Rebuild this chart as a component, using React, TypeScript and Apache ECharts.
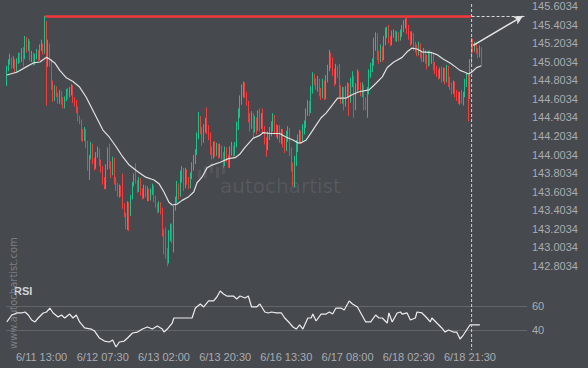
import React, { useEffect, useRef } from "react";
import * as echarts from "echarts";

// ---- data ----
const slotCount = 315; // 30-minute slots on the time axis (incl. empty future slots)
const slots = Array.from({ length: slotCount }, (_, i) => String(i));

const tickSlots = [21, 58, 95, 132, 169, 206, 243, 280];
const tickLabels = ["6/11 13:00", "6/12 07:30", "6/13 02:00", "6/13 20:30", "6/16 13:30", "6/17 08:00", "6/18 02:30", "6/18 21:30"];

const firstOpen = 144.83;
const closes = [
  144.94, 145.0, 145.04, 144.96, 145.02, 144.91, 145.0, 145.07, 145.02, 145.13,
  145.05, 145.24, 145.15, 145.22, 145.04, 145.09, 145.0, 145.06, 145.11, 145.04,
  145.15, 145.19, 145.11, 145.37, 145.08, 145.18, 145.02, 144.75, 144.62, 144.72,
  144.65, 144.59, 144.67, 144.59, 144.53, 144.61, 144.68, 144.65, 144.7, 144.72,
  144.59, 144.56, 144.48, 144.4, 144.36, 144.21, 144.18, 144.26, 144.11, 143.86,
  143.98, 144.1, 143.95, 143.88, 144.0, 144.05, 143.92, 143.86, 143.73, 143.68,
  143.86, 144.05, 143.89, 143.81, 143.95, 143.73, 143.66, 143.59, 143.65, 143.58,
  143.48, 143.36, 143.25, 143.46, 143.36, 143.54, 143.68, 143.75, 143.71, 143.62,
  143.73, 143.6, 143.56, 143.65, 143.57, 143.62, 143.54, 143.6, 143.65, 143.54,
  143.46, 143.41, 143.47, 143.41, 143.17, 143.0, 142.92, 142.85, 143.14, 143.23,
  143.1, 143.43, 143.51, 143.68, 143.57, 143.78, 143.84, 143.68, 143.82, 143.73,
  143.67, 143.78, 143.89, 143.97, 144.03, 144.2, 144.4, 144.27, 144.16, 144.29,
  144.35, 144.27, 144.21, 144.05, 144.0, 144.11, 144.03, 144.1, 144.02, 144.07,
  144.0, 143.91, 144.05, 143.97, 143.89, 144.03, 144.07, 144.02, 144.11, 144.32,
  144.46, 144.59, 144.68, 144.74, 144.65, 144.57, 144.4, 144.32, 144.43, 144.27,
  144.38, 144.29, 144.43, 144.32, 144.4, 144.29, 144.16, 144.07, 144.21, 144.27,
  144.32, 144.4, 144.29, 144.24, 144.29, 144.18, 144.25, 144.14, 144.07, 144.21,
  144.27, 144.05, 143.89, 143.73, 143.95, 144.11, 144.18, 144.23, 144.18, 144.29,
  144.33, 144.46, 144.55, 144.48, 144.7, 144.85, 144.79, 144.74, 144.81, 144.68,
  144.63, 144.79, 144.63, 144.81, 144.94, 145.09, 144.98, 144.89, 144.81, 144.94,
  144.87, 144.7, 144.61, 144.7, 144.57, 144.7, 144.74, 144.59, 144.79, 144.85,
  144.51, 144.72, 144.87, 144.74, 144.68, 144.74, 144.59, 144.54, 144.7, 144.87,
  144.96, 145.0, 145.22, 145.28, 145.08, 145.02, 145.15, 145.04, 145.22, 145.32,
  145.35, 145.24, 145.21, 145.3, 145.31, 145.26, 145.3, 145.26, 145.32, 145.37,
  145.41, 145.43, 145.35, 145.28, 145.22, 145.29, 145.17, 145.15, 145.11, 145.18,
  145.09, 145.04, 145.11, 145.02, 144.98, 145.09, 145.02, 145.08, 144.96, 144.91,
  144.88, 144.85, 144.91, 144.83, 144.9, 144.81, 144.94, 144.81, 144.74, 144.7,
  144.76, 144.67, 144.63, 144.61, 144.65, 144.59, 144.65, 144.79, 144.83, 144.68,
  145.0, 145.24, 145.13, 145.19, 145.13, 145.08, 145.15, 145.0,
];
const highs = [
  144.96, 145.03, 145.09, 145.05, 145.06, 145.03, 145.04, 145.1, 145.1, 145.15,
  145.16, 145.28, 145.27, 145.25, 145.23, 145.12, 145.1, 145.09, 145.14, 145.13,
  145.19, 145.24, 145.2, 145.495, 145.44, 145.24, 145.2, 145.03, 144.8, 144.75,
  144.74, 144.67, 144.7, 144.69, 144.62, 144.63, 144.71, 144.72, 144.73, 144.76,
  144.75, 144.62, 144.59, 144.52, 144.42, 144.38, 144.28, 144.3, 144.28, 144.15,
  144.0, 144.14, 144.12, 143.97, 144.03, 144.09, 144.07, 143.95, 143.88, 143.76,
  143.9, 144.08, 144.12, 143.93, 143.98, 143.97, 143.76, 143.7, 143.68, 143.67,
  143.8, 143.48, 143.38, 143.5, 143.49, 143.57, 143.71, 143.8, 143.91, 143.73,
  143.76, 143.75, 143.64, 143.68, 143.67, 143.66, 143.63, 143.64, 143.69, 143.67,
  143.56, 143.48, 143.5, 143.49, 143.43, 143.2, 143.22, 143.0, 143.19, 143.26,
  143.26, 143.45, 143.55, 143.72, 143.69, 143.83, 143.88, 143.86, 143.86, 143.84,
  143.76, 143.81, 143.92, 144.0, 144.06, 144.24, 144.46, 144.42, 144.3, 144.33,
  144.4, 144.51, 144.32, 144.24, 144.09, 144.14, 144.15, 144.13, 144.12, 144.12,
  144.1, 144.03, 144.09, 144.08, 144.0, 144.09, 144.14, 144.1, 144.14, 144.36,
  144.5, 144.64, 144.76, 144.79, 144.78, 144.68, 144.58, 144.45, 144.47, 144.45,
  144.42, 144.4, 144.48, 144.5, 144.45, 144.5, 144.31, 144.19, 144.25, 144.3,
  144.36, 144.45, 144.43, 144.33, 144.32, 144.32, 144.28, 144.28, 144.18, 144.26,
  144.31, 144.29, 144.08, 143.92, 143.99, 144.16, 144.22, 144.27, 144.26, 144.33,
  144.37, 144.5, 144.59, 144.58, 144.74, 144.89, 144.87, 144.82, 144.85, 144.82,
  144.72, 144.82, 144.8, 144.86, 144.97, 145.13, 145.1, 145.05, 144.93, 144.98,
  144.96, 144.98, 144.75, 144.73, 144.73, 144.74, 144.78, 144.77, 144.83, 144.9,
  144.85, 144.77, 144.92, 144.9, 144.78, 144.78, 144.75, 144.62, 144.73, 144.92,
  144.99, 145.04, 145.26, 145.32, 145.31, 145.12, 145.19, 145.17, 145.28, 145.37,
  145.38, 145.4, 145.28, 145.34, 145.35, 145.34, 145.33, 145.32, 145.35, 145.4,
  145.45, 145.47, 145.495, 145.4, 145.33, 145.33, 145.31, 145.22, 145.19, 145.22,
  145.2, 145.12, 145.15, 145.13, 145.08, 145.12, 145.13, 145.11, 145.1, 145.0,
  144.96, 144.92, 144.94, 144.95, 144.94, 144.94, 144.97, 144.96, 144.84, 144.78,
  144.8, 144.79, 144.7, 144.68, 144.68, 144.7, 144.68, 144.82, 144.88, 144.86,
  145.03, 145.26, 145.25, 145.22, 145.2, 145.15, 145.18, 145.16,
];
const lows = [
  144.74, 144.9, 144.97, 144.93, 144.93, 144.88, 144.89, 144.98, 144.99, 145.0,
  144.95, 145.03, 145.1, 145.12, 145.01, 145.0, 144.96, 144.97, 145.03, 145.01,
  145.02, 145.12, 145.08, 145.09, 144.53, 144.95, 144.95, 144.7, 144.57, 144.58,
  144.62, 144.55, 144.55, 144.54, 144.5, 144.5, 144.58, 144.6, 144.62, 144.64,
  144.56, 144.52, 144.45, 144.36, 144.33, 144.15, 144.14, 144.15, 144.07, 143.83,
  143.73, 143.95, 143.9, 143.83, 143.85, 143.97, 143.88, 143.81, 143.68, 143.63,
  143.63, 143.84, 143.85, 143.75, 143.78, 143.68, 143.61, 143.55, 143.54, 143.55,
  143.42, 143.33, 143.2, 143.19, 143.18, 143.34, 143.52, 143.66, 143.69, 143.59,
  143.6, 143.56, 143.52, 143.53, 143.54, 143.5, 143.5, 143.51, 143.57, 143.49,
  143.43, 143.37, 143.38, 143.36, 143.12, 142.93, 142.88, 142.8, 142.83, 143.07,
  143.05, 142.95, 143.4, 143.48, 143.52, 143.55, 143.7, 143.61, 143.64, 143.68,
  143.63, 143.64, 143.74, 143.83, 143.9, 144.0, 144.17, 144.22, 144.1, 144.13,
  144.24, 144.22, 144.16, 144.0, 143.95, 143.96, 143.98, 143.99, 143.96, 143.97,
  143.95, 143.86, 143.88, 143.92, 143.86, 143.86, 143.99, 143.98, 143.99, 144.08,
  144.27, 144.4, 144.54, 144.62, 144.61, 144.53, 144.35, 144.25, 144.28, 144.19,
  144.24, 144.22, 144.26, 144.25, 144.28, 144.24, 144.11, 143.98, 144.05, 144.16,
  144.2, 144.25, 144.22, 144.19, 144.17, 144.13, 144.12, 144.08, 144.02, 144.04,
  144.14, 143.99, 143.82, 143.66, 143.65, 143.88, 144.03, 144.12, 144.12, 144.14,
  144.22, 144.29, 144.42, 144.42, 144.45, 144.66, 144.75, 144.7, 144.68, 144.63,
  144.59, 144.61, 144.59, 144.6, 144.78, 144.9, 144.93, 144.85, 144.74, 144.76,
  144.83, 144.62, 144.55, 144.55, 144.48, 144.52, 144.62, 144.42, 144.56, 144.73,
  144.4, 144.48, 144.68, 144.7, 144.63, 144.62, 144.48, 144.48, 144.4, 144.65,
  144.83, 144.89, 144.96, 145.12, 145.02, 144.98, 145.0, 145.0, 145.02, 145.18,
  145.26, 145.2, 145.17, 145.18, 145.26, 145.22, 145.22, 145.22, 145.23, 145.27,
  145.32, 145.36, 145.3, 145.24, 145.17, 145.19, 145.12, 145.1, 145.06, 145.07,
  145.04, 145.0, 145.0, 144.98, 144.92, 144.95, 144.96, 144.98, 144.91, 144.87,
  144.84, 144.81, 144.82, 144.78, 144.79, 144.76, 144.78, 144.73, 144.7, 144.65,
  144.66, 144.62, 144.58, 144.55, 144.54, 144.55, 144.53, 144.62, 144.73, 144.36,
  144.6, 144.98, 145.1, 145.11, 145.09, 145.04, 145.05, 144.97,
];

// moving average line: [slot, price]
const maPoints = [
  [0, 144.86], [6, 144.89], [12, 144.95], [16, 144.99], [20, 145.0], [24, 145.05], [26, 145.03],
  [29, 144.99], [32, 144.91], [36, 144.83], [40, 144.79], [44, 144.73], [48, 144.62], [52, 144.48],
  [58, 144.27], [62, 144.19], [66, 144.09], [70, 143.98], [74, 143.89], [79, 143.82], [84, 143.76],
  [89, 143.73], [92, 143.69], [95, 143.6], [98, 143.49], [100, 143.46], [103, 143.47], [106, 143.51],
  [110, 143.55], [113, 143.6], [115, 143.7], [118, 143.76], [121, 143.86], [124, 143.89], [129, 143.92],
  [134, 143.96], [138, 143.97], [141, 144.01], [144, 144.08], [149, 144.18], [153, 144.21], [155, 144.24],
  [159, 144.23], [165, 144.23], [169, 144.19], [173, 144.16], [176, 144.13], [178, 144.13], [181, 144.16],
  [184, 144.24], [187, 144.32], [190, 144.4], [193, 144.45], [197, 144.54], [200, 144.61], [205, 144.61],
  [209, 144.65], [213, 144.68], [219, 144.7], [222, 144.75], [227, 144.84], [230, 144.94], [234, 145.0],
  [239, 145.05], [242, 145.11], [245, 145.15], [248, 145.14], [251, 145.11], [257, 145.1], [260, 145.08],
  [264, 145.03], [268, 144.99], [271, 144.95], [274, 144.91], [277, 144.89], [279, 144.87], [281, 144.89],
  [284, 144.94], [287, 144.96],
];

// RSI line: [slot, value]
const rsiPoints = [
  [0, 46.7], [3, 52.5], [6, 54.2], [9, 54.2], [11, 55.0], [13, 52.5], [15, 48.3], [17, 46.7], [19, 50.0],
  [22, 54.2], [24, 55.0], [26, 58.3], [28, 54.2], [31, 50.8], [33, 52.5], [35, 50.0], [38, 53.3], [40, 50.0],
  [42, 52.5], [44, 46.7], [47, 41.7], [51, 40.8], [53, 39.2], [56, 33.3], [59, 30.8], [62, 30.0], [64, 31.7],
  [66, 25.8], [68, 30.0], [71, 30.8], [73, 33.3], [76, 37.5], [79, 38.3], [82, 40.8], [85, 42.5], [88, 40.8],
  [91, 43.3], [94, 40.8], [95, 38.3], [97, 40.8], [100, 45.8], [101, 50.0], [112, 50.0], [114, 58.3],
  [117, 61.7], [119, 59.2], [122, 64.2], [125, 64.2], [127, 67.5], [129, 72.5], [131, 70.0], [133, 68.3],
  [137, 68.3], [139, 65.8], [141, 68.3], [144, 66.7], [146, 68.3], [148, 59.2], [151, 59.2], [153, 61.7],
  [156, 55.0], [158, 54.2], [160, 55.0], [163, 54.2], [166, 54.2], [168, 50.0], [171, 45.8], [173, 42.5],
  [175, 40.8], [177, 44.2], [179, 40.8], [182, 50.0], [184, 50.0], [185, 53.3], [187, 47.5], [190, 53.3],
  [193, 53.3], [195, 55.0], [197, 53.3], [199, 58.3], [202, 58.3], [204, 56.7], [207, 64.2], [209, 61.7],
  [212, 59.2], [214, 54.2], [217, 46.7], [220, 46.7], [223, 52.5], [225, 50.0], [227, 50.0], [230, 45.8],
  [231, 54.2], [233, 46.7], [236, 54.2], [238, 55.0], [239, 53.3], [242, 54.2], [244, 48.3], [247, 50.0],
  [248, 55.0], [251, 54.2], [254, 50.0], [256, 46.7], [257, 50.0], [260, 45.8], [263, 41.7], [265, 38.3],
  [267, 40.0], [270, 38.3], [272, 38.3], [274, 32.5], [276, 35.8], [278, 40.0], [280, 44.2], [286, 44.2],
];

const resistanceLevel = 145.495;
const resistanceStartSlot = 23;
const nowSlot = 281;
const projectionEndSlot = 313;
const arrowStart = [282, 145.18];
const arrowEnd = [312, 145.495];

const BG = "#46494e";
const UP = "#1cc189";
const DOWN = "#f23c3d";
const LABEL = "#a9acb0";

export default function App() {
  const ref = useRef<HTMLDivElement>(null);

  useEffect(() => {
    if (!ref.current) return;
    const chart = echarts.init(ref.current, null, { renderer: "svg" });

    const ohlc = closes.map((c, i) => [i === 0 ? firstOpen : closes[i - 1], c, lows[i], highs[i]]);

    const hiddenAxisBits = {
      axisLine: { show: false },
      axisTick: { show: false },
      splitLine: { show: false },
    };

    chart.setOption({
      animation: false,
      backgroundColor: BG,
      grid: [
        { left: 6, right: 61, top: 6, height: 260 },
        { left: 6, right: 61, top: 282, height: 72 },
      ],
      xAxis: [
        {
          type: "category",
          gridIndex: 0,
          data: slots,
          boundaryGap: true,
          ...hiddenAxisBits,
          axisLabel: { show: false },
        },
        {
          type: "category",
          gridIndex: 1,
          data: slots,
          boundaryGap: true,
          ...hiddenAxisBits,
          axisLabel: {
            show: true,
            interval: (idx: number) => tickSlots.indexOf(idx) >= 0,
            formatter: (_v: string, idx: number) => {
              const k = tickSlots.indexOf(idx);
              return k >= 0 ? tickLabels[k] : "";
            },
            color: LABEL,
            fontSize: 11,
            fontFamily: "Liberation Sans, Arial, sans-serif",
            margin: -3,
          },
        },
      ],
      yAxis: [
        {
          type: "value",
          gridIndex: 0,
          position: "right",
          min: 142.8034,
          max: 145.603,
          interval: 0.2,
          ...hiddenAxisBits,
          axisLabel: {
            color: LABEL,
            fontSize: 11,
            fontFamily: "Liberation Sans, Arial, sans-serif",
            margin: 5,
            formatter: (v: number) => (Math.round((v - 0.0034) * 10) / 10 + 0.0034).toFixed(4),
          },
        },
        {
          type: "value",
          gridIndex: 1,
          position: "right",
          min: 20,
          max: 80,
          interval: 20,
          axisLine: { show: false },
          axisTick: { show: false },
          splitLine: {
            show: true,
            lineStyle: { color: ["rgba(0,0,0,0)", "#62666b", "#62666b", "rgba(0,0,0,0)"], width: 1 },
          },
          axisLabel: {
            color: LABEL,
            fontSize: 11,
            fontFamily: "Liberation Sans, Arial, sans-serif",
            margin: 5,
            formatter: (v: number) => (v === 40 || v === 60 ? String(v) : ""),
          },
        },
      ],
      series: [
        {
          type: "candlestick",
          xAxisIndex: 0,
          yAxisIndex: 0,
          data: ohlc,
          barWidth: 1.2,
          clip: false,
          itemStyle: {
            color: UP,
            color0: DOWN,
            borderColor: UP,
            borderColor0: DOWN,
            borderWidth: 1,
          },
          markLine: {
            silent: true,
            symbol: ["none", "none"],
            label: { show: false },
            data: [
              [
                { coord: [resistanceStartSlot, resistanceLevel], lineStyle: { color: "#f4373b", width: 2.5, type: "solid" } },
                { coord: [nowSlot, resistanceLevel] },
              ],
              [
                { coord: [nowSlot, resistanceLevel], lineStyle: { color: "#d8d8d8", width: 1, type: [3, 2] } },
                { coord: [projectionEndSlot, resistanceLevel] },
              ],
              [
                { coord: arrowStart, symbol: "none", lineStyle: { color: "#e4e4e4", width: 1.5, type: "solid" } },
                { coord: arrowEnd, symbol: "arrow", symbolSize: [7, 9] },
              ],
            ],
          },
        },
        {
          type: "line",
          xAxisIndex: 0,
          yAxisIndex: 0,
          data: maPoints,
          showSymbol: false,
          lineStyle: { color: "#e0e0e0", width: 1.2 },
          z: 3,
        },
        {
          type: "line",
          xAxisIndex: 1,
          yAxisIndex: 1,
          data: rsiPoints,
          showSymbol: false,
          lineStyle: { color: "#ececec", width: 1.2 },
        },
      ],
      graphic: [
        {
          type: "text",
          left: 14,
          top: 285,
          style: { text: "RSI", fill: "#d2d4d6", font: "bold 11px Liberation Sans, Arial, sans-serif" },
        },
        {
          type: "text",
          x: 18,
          y: 349,
          rotation: Math.PI / 2,
          style: {
            text: "www.autochartist.com",
            fill: "#7b7e83",
            font: "10px DejaVu Sans, sans-serif",
            textAlign: "left",
            textVerticalAlign: "bottom",
          },
        },
        {
          type: "group",
          silent: true,
          children: [
            { type: "rect", shape: { x: 198, y: 170, width: 3, height: 8 }, style: { fill: "rgba(255,255,255,0.07)" } },
            { type: "rect", shape: { x: 204, y: 166, width: 3, height: 12 }, style: { fill: "rgba(255,255,255,0.07)" } },
            { type: "rect", shape: { x: 210, y: 163, width: 3, height: 10 }, style: { fill: "rgba(255,255,255,0.07)" } },
            { type: "rect", shape: { x: 216, y: 167, width: 3, height: 11 }, style: { fill: "rgba(255,255,255,0.07)" } },
            { type: "rect", shape: { x: 222, y: 165, width: 3, height: 9 }, style: { fill: "rgba(255,255,255,0.07)" } },
            {
              type: "text",
              x: 220,
              y: 186,
              style: {
                text: "autochartist",
                fill: "rgba(255,255,255,0.09)",
                font: "20px DejaVu Sans, sans-serif",
                textAlign: "left",
                textVerticalAlign: "middle",
              },
            },
          ],
        },
      ],
    });

    const nowX = chart.convertToPixel({ xAxisIndex: 0 }, nowSlot) as number;
    chart.setOption({
      graphic: [
        {
          type: "line",
          id: "nowLine",
          silent: true,
          z: 10,
          shape: { x1: nowX, y1: 4, x2: nowX, y2: 350 },
          style: { stroke: "#d0d0d0", lineWidth: 1, lineDash: [3, 2] },
        },
      ],
    });

    return () => chart.dispose();
  }, []);

  return (
    <div
      ref={ref}
      style={{ position: "fixed", left: 0, top: 0, width: 588, height: 368, background: BG }}
    />
  );
}
